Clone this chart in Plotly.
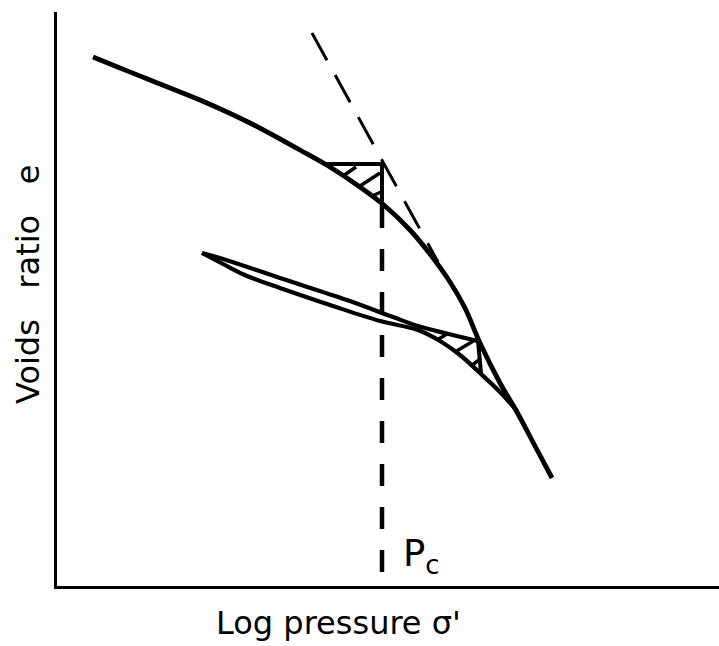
import plotly.graph_objects as go

# Schematic e - log(sigma') consolidation curve, arbitrary units
# (x: log pressure, y: voids ratio)

# virgin compression curve
virgin_x = [36, 63, 93, 143, 193, 243, 273, 303, 328, 353, 373, 393, 408, 423, 443, 460, 478, 495]
virgin_y = [529, 518, 506, 486, 463, 436, 419, 399, 380, 356, 332, 304, 278, 243, 203, 174, 140, 108]

# unloading branch (upper edge of the loop, extended to the virgin curve)
unload_x = [145, 166, 223, 290, 336, 361, 421]
unload_y = [333, 327, 308, 286, 269, 260, 245]

# reloading branch (lower edge of the loop, rejoining the virgin curve)
reload_x = [145, 166, 190, 223, 273, 323, 361, 383, 403, 423, 443, 460]
reload_y = [333, 322, 310, 298, 281, 265, 256, 245, 231, 213, 194, 175]

# tangent to the steep part of the curve
tangent_x = [255, 381]
tangent_y = [553, 324]

# preconsolidation pressure
pc_x = 325
pc_top = 380
pc_bottom = 4

# construction triangle at the upper curve
tri1_x = [268, 325, 325]
tri1_y = [422, 422, 380]
hatch1 = [((286, 410), (299, 419)), ((303, 400), (323, 413)), ((315, 390), (324, 394))]

# construction triangle at the loop
tri2_x = [421, 424]
tri2_y = [245, 213]
hatch2 = [((380, 246), (390, 252)), ((398, 234), (418, 246)), ((414, 220), (422, 226))]

X_RANGE = [0, 662]
Y_RANGE = [0, 574]

BLACK = "black"
fig = go.Figure()


def add_line(xs, ys, width=4.5, dash="solid", shape="linear"):
    fig.add_trace(go.Scatter(
        x=xs, y=ys, mode="lines",
        line=dict(color=BLACK, width=width, dash=dash, shape=shape, smoothing=1.0),
        hoverinfo="skip", showlegend=False,
    ))


def px(x):
    return (x - X_RANGE[0]) / (X_RANGE[1] - X_RANGE[0])


def py(y):
    return (y - Y_RANGE[0]) / (Y_RANGE[1] - Y_RANGE[0])


add_line(virgin_x, virgin_y, width=4.8, shape="spline")
add_line(unload_x, unload_y, width=4.2, shape="spline")
add_line(reload_x, reload_y, width=4.2, shape="spline")
add_line(tangent_x, tangent_y, width=3, dash="31px,17px")
add_line([pc_x, pc_x], [pc_top, pc_bottom], width=4.5, dash="22px,21px")
add_line(tri1_x, tri1_y, width=4)
add_line(tri2_x, tri2_y, width=4)
for (a, b) in hatch1 + hatch2:
    add_line([a[0], b[0]], [a[1], b[1]], width=3.5)

label_font = dict(family="DejaVu Sans", size=32, color=BLACK)

fig.add_annotation(x=px(pc_x + 19), y=py(30), xref="paper", yref="paper",
                   text="P<sub>c</sub>", showarrow=False, xanchor="left", yanchor="middle",
                   font=dict(family="DejaVu Sans", size=37, color=BLACK))
fig.add_annotation(x=px(281), y=py(-37), xref="paper", yref="paper",
                   text="Log pressure σ'", showarrow=False,
                   xanchor="center", yanchor="middle", font=label_font)
fig.add_annotation(x=px(-29), y=py(301), xref="paper", yref="paper",
                   text="Voids   ratio   e", textangle=-90, showarrow=False,
                   xanchor="center", yanchor="middle", font=label_font)

fig.update_layout(
    width=719, height=646,
    margin=dict(l=57, r=0, t=12, b=60),
    paper_bgcolor="white", plot_bgcolor="white",
    xaxis=dict(range=X_RANGE, showgrid=False, zeroline=False, showticklabels=False,
               ticks="", showline=True, linecolor=BLACK, linewidth=2.5, fixedrange=True),
    yaxis=dict(range=Y_RANGE, showgrid=False, zeroline=False, showticklabels=False,
               ticks="", showline=True, linecolor=BLACK, linewidth=2.5, fixedrange=True),
)

fig.write_html("out.html")
